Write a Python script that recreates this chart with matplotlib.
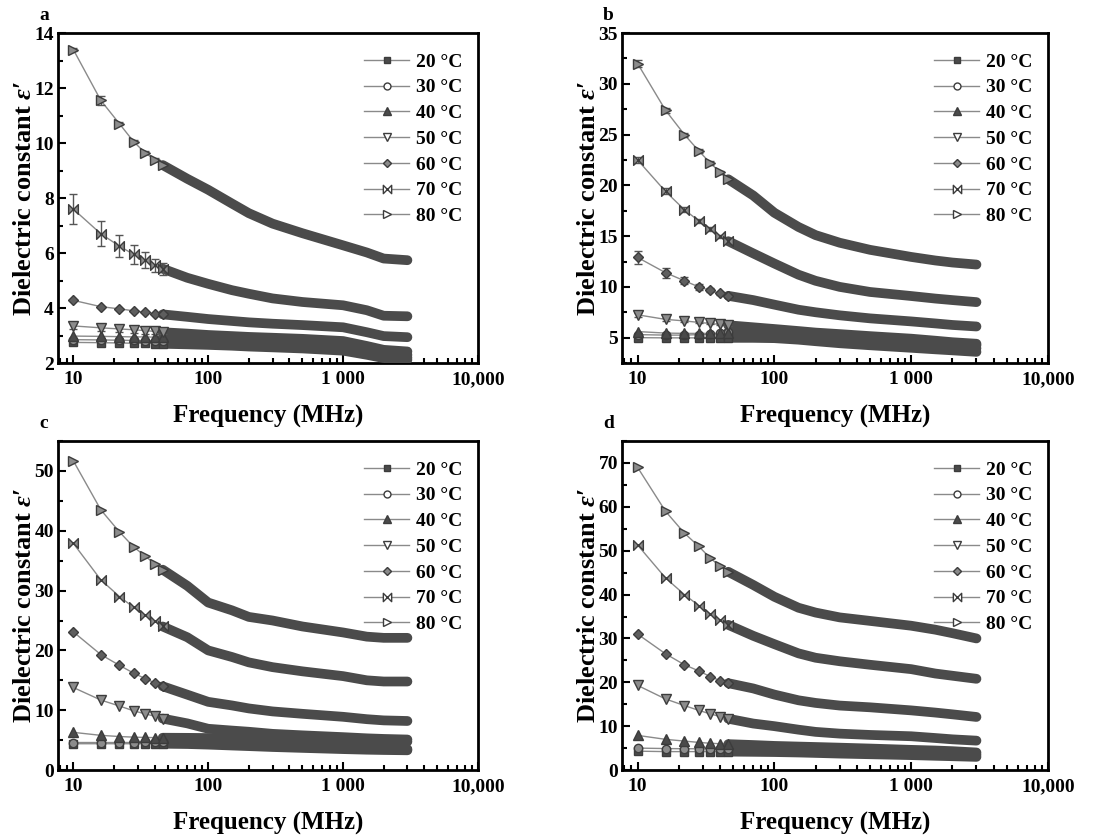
import matplotlib
matplotlib.use("agg")
import matplotlib.pyplot as plt
from matplotlib.path import Path
from matplotlib.ticker import FixedLocator, FixedFormatter, LogLocator, NullFormatter, MultipleLocator

plt.rcParams['font.family'] = ['Liberation Serif', 'DejaVu Serif']
plt.rcParams['font.weight'] = 'bold'
plt.rcParams['mathtext.fontset'] = 'custom'
plt.rcParams['mathtext.rm'] = 'Liberation Serif:bold'
plt.rcParams['mathtext.it'] = 'Liberation Serif:bold:italic'

# frequency sweep (MHz); the first SWEEP_MARKERS points are drawn as separate markers,
# the rest merge into a dense band
FREQ = [10, 16, 22, 28, 34, 40, 46, 70, 100, 150, 200, 300, 500, 1000, 1500, 2000, 3000]
SWEEP_MARKERS = 7

TEMPS = ['20 °C', '30 °C', '40 °C', '50 °C', '60 °C', '70 °C', '80 °C']
PANELS = ['a', 'b', 'c', 'd']
XTICKS = [10, 100, 1000, 10000]
XTICK_LABELS = ['10', '100', '1 000', '10,000']

# dielectric constant, one row per temperature (20 ... 80 °C)
EPS_A = [
    [2.75, 2.74, 2.73, 2.72, 2.72, 2.71, 2.70, 2.68, 2.66, 2.63, 2.60, 2.57, 2.53, 2.45, 2.30, 2.18, 2.12],
    [2.85, 2.84, 2.83, 2.82, 2.81, 2.80, 2.79, 2.77, 2.74, 2.70, 2.67, 2.63, 2.60, 2.52, 2.38, 2.25, 2.20],
    [2.98, 2.97, 2.96, 2.95, 2.95, 2.94, 2.93, 2.90, 2.86, 2.82, 2.78, 2.75, 2.70, 2.62, 2.48, 2.35, 2.30],
    [3.35, 3.28, 3.24, 3.21, 3.18, 3.15, 3.12, 3.07, 3.02, 2.98, 2.95, 2.92, 2.88, 2.80, 2.62, 2.48, 2.42],
    [4.28, 4.05, 3.97, 3.90, 3.85, 3.80, 3.77, 3.68, 3.60, 3.53, 3.48, 3.43, 3.38, 3.30, 3.12, 2.98, 2.94],
    [7.60, 6.70, 6.25, 5.95, 5.75, 5.55, 5.43, 5.10, 4.88, 4.65, 4.52, 4.35, 4.22, 4.10, 3.92, 3.72, 3.70],
    [13.4, 11.55, 10.7, 10.05, 9.65, 9.40, 9.20, 8.70, 8.30, 7.80, 7.45, 7.07, 6.72, 6.28, 6.02, 5.80, 5.74],
]
EPS_B = [
    [5.00, 4.98, 4.98, 4.98, 4.98, 4.98, 4.98, 4.98, 4.95, 4.80, 4.65, 4.45, 4.25, 4.00, 3.85, 3.75, 3.60],
    [5.30, 5.25, 5.25, 5.30, 5.35, 5.45, 5.55, 5.70, 5.60, 5.35, 5.15, 4.95, 4.70, 4.45, 4.25, 4.10, 3.95],
    [5.60, 5.45, 5.42, 5.42, 5.42, 5.42, 5.42, 5.45, 5.40, 5.25, 5.10, 4.95, 4.80, 4.60, 4.45, 4.35, 4.25],
    [7.25, 6.80, 6.65, 6.50, 6.40, 6.30, 6.22, 6.02, 5.85, 5.65, 5.50, 5.35, 5.15, 4.90, 4.70, 4.55, 4.40],
    [12.9, 11.4, 10.6, 10.0, 9.65, 9.35, 9.12, 8.70, 8.25, 7.75, 7.50, 7.20, 6.90, 6.60, 6.40, 6.25, 6.10],
    [22.5, 19.4, 17.6, 16.5, 15.7, 15.0, 14.5, 13.3, 12.3, 11.2, 10.6, 10.0, 9.50, 9.10, 8.85, 8.70, 8.50],
    [32.0, 27.4, 25.0, 23.4, 22.2, 21.3, 20.6, 19.0, 17.3, 15.9, 15.1, 14.35, 13.65, 12.95, 12.6, 12.4, 12.2],
]
EPS_C = [
    [4.40, 4.40, 4.40, 4.40, 4.40, 4.40, 4.40, 4.35, 4.25, 4.10, 4.00, 3.85, 3.70, 3.50, 3.40, 3.35, 3.30],
    [4.60, 4.60, 4.60, 4.60, 4.62, 4.65, 4.68, 4.70, 4.60, 4.45, 4.35, 4.20, 4.05, 3.85, 3.70, 3.60, 3.50],
    [6.30, 5.80, 5.60, 5.50, 5.45, 5.42, 5.40, 5.38, 5.35, 5.30, 5.25, 5.15, 5.05, 4.95, 4.85, 4.80, 4.75],
    [13.8, 11.7, 10.7, 9.90, 9.40, 9.00, 8.60, 7.80, 6.90, 6.60, 6.40, 6.05, 5.80, 5.50, 5.30, 5.20, 5.10],
    [23.1, 19.3, 17.5, 16.2, 15.3, 14.6, 14.0, 12.6, 11.4, 10.8, 10.3, 9.80, 9.40, 8.90, 8.50, 8.30, 8.20],
    [37.9, 31.8, 29.0, 27.2, 25.9, 24.9, 24.0, 22.2, 20.0, 18.9, 18.0, 17.2, 16.5, 15.7, 15.0, 14.8, 14.8],
    [51.7, 43.5, 39.8, 37.3, 35.8, 34.5, 33.5, 30.8, 28.0, 26.7, 25.6, 25.0, 24.0, 23.0, 22.3, 22.1, 22.1],
]
EPS_D = [
    [4.30, 4.20, 4.20, 4.20, 4.20, 4.20, 4.20, 4.15, 4.10, 4.00, 3.90, 3.75, 3.60, 3.40, 3.25, 3.15, 3.00],
    [5.00, 4.90, 4.85, 4.85, 4.85, 4.85, 4.85, 4.80, 4.70, 4.55, 4.45, 4.30, 4.15, 3.95, 3.80, 3.65, 3.50],
    [7.90, 7.00, 6.60, 6.30, 6.10, 6.00, 5.90, 5.70, 5.50, 5.35, 5.25, 5.10, 4.90, 4.60, 4.45, 4.30, 4.00],
    [19.3, 16.2, 14.7, 13.6, 12.8, 12.2, 11.7, 10.6, 10.0, 9.20, 8.70, 8.30, 8.00, 7.70, 7.30, 7.00, 6.70],
    [31.0, 26.5, 24.0, 22.6, 21.3, 20.4, 19.8, 18.6, 17.2, 15.9, 15.3, 14.7, 14.3, 13.6, 13.1, 12.7, 12.1],
    [51.3, 43.8, 40.0, 37.5, 35.6, 34.2, 33.1, 30.6, 28.7, 26.6, 25.6, 24.8, 24.0, 23.0, 22.0, 21.5, 20.8],
    [69.0, 59.0, 54.0, 51.0, 48.3, 46.5, 45.2, 42.2, 39.5, 37.0, 35.9, 34.8, 34.0, 32.9, 32.0, 31.2, 30.0],
]

# standard deviation at the first sweep points (index into TEMPS -> values)
ERR_A = {0: [0.10, 0.10, 0.10, 0.10, 0.10, 0.08, 0.06],
         3: [0.12, 0.12, 0.12, 0.12, 0.12, 0.10, 0.08],
         5: [0.55, 0.45, 0.40, 0.35, 0.30, 0.25, 0.22],
         6: [0.06, 0.15, 0.06, 0.05, 0.05, 0.05, 0.05]}
ERR_B = {3: [0.20, 0.15, 0.10, 0.10, 0.10, 0.10, 0.10],
         4: [0.60, 0.50, 0.35, 0.30, 0.20, 0.15, 0.10],
         5: [0.30, 0.30, 0.25, 0.20, 0.20, 0.15, 0.10],
         6: [0.30, 0.25, 0.20, 0.20, 0.15, 0.15, 0.10]}
ERR_C = {}
ERR_D = {}

YLIMS = [(2, 14), (2.5, 35), (0, 55), (0, 75)]
YSTEPS = [(2, 1), (5, 2.5), (10, 5), (10, 5)]

AXES_RECTS = [
    [0.0522, 0.5673, 0.378, 0.3933],
    [0.5599, 0.5673, 0.3834, 0.3933],
    [0.0522, 0.0822, 0.378, 0.3921],
    [0.5599, 0.0822, 0.3834, 0.3921],
]

bowtie = Path([(-1, 1), (-1, -1), (1, 1), (1, -1), (-1, 1)],
              [Path.MOVETO, Path.LINETO, Path.LINETO, Path.LINETO, Path.CLOSEPOLY])
MARKERS = ['s', 'o', '^', 'v', 'D', bowtie, '>']
LEGEND_FACES = ['#4a4a4a', 'white', '#4a4a4a', 'white', '#8a8a8a', 'white', 'white']
PLOT_FACES = ['#4a4a4a', '#8c8c8c', '#4a4a4a', '#8c8c8c', '#5e5e5e', '#8c8c8c', '#8c8c8c']
SIZES = [6, 6, 6.5, 6.5, 5.5, 7, 6.5]

LINE_C = '#8a8a8a'
EDGE_C = '#3c3c3c'
BAND_C = '#4b4b4b'


def draw_panel(ax, eps, errs, ylim, ysteps, letter):
    for i, (label, values) in enumerate(zip(TEMPS, eps)):
        ax.plot(FREQ, values, color=LINE_C, lw=1.0, zorder=2)
        ax.plot(FREQ[SWEEP_MARKERS - 1:], values[SWEEP_MARKERS - 1:], color=BAND_C,
                lw=7.0, solid_capstyle='round', zorder=3)
        if i in errs:
            ax.errorbar(FREQ[:SWEEP_MARKERS], values[:SWEEP_MARKERS], yerr=errs[i],
                        fmt='none', ecolor='#555555', elinewidth=1.0, capsize=3, capthick=1.0,
                        zorder=3)
        ax.plot(FREQ[:SWEEP_MARKERS], values[:SWEEP_MARKERS], ls='none', marker=MARKERS[i],
                ms=SIZES[i], mfc=PLOT_FACES[i], mec=EDGE_C, mew=1.0, zorder=4)
        # legend proxy
        ax.plot([], [], color=LINE_C, lw=1.0, marker=MARKERS[i], ms=SIZES[i] - 1,
                mfc=LEGEND_FACES[i], mec=EDGE_C, mew=1.0, label=label)

    ax.set_xscale('log')
    ax.set_xlim(7.7, 10000)
    ax.set_ylim(*ylim)
    ax.xaxis.set_major_locator(FixedLocator(XTICKS))
    ax.xaxis.set_major_formatter(FixedFormatter(XTICK_LABELS))
    ax.xaxis.set_minor_locator(LogLocator(base=10, subs=range(2, 10), numticks=20))
    ax.xaxis.set_minor_formatter(NullFormatter())
    ax.yaxis.set_major_locator(MultipleLocator(ysteps[0]))
    ax.yaxis.set_minor_locator(MultipleLocator(ysteps[1]))
    if ylim[0] == 2.5:
        ax.set_yticks([5, 10, 15, 20, 25, 30, 35])

    ax.tick_params(which='both', direction='in', top=False, right=False, width=1.5,
                   labelsize=14)
    ax.tick_params(axis='x', pad=6)
    ax.tick_params(axis='y', pad=3)
    ax.tick_params(which='major', length=6)
    ax.tick_params(which='minor', length=3.5)
    for side in ax.spines.values():
        side.set_linewidth(2.0)

    ax.set_xlabel('Frequency (MHz)', fontsize=18, fontweight='bold', labelpad=12)
    ax.set_ylabel("Dielectric constant $\\varepsilon$\u2032", fontsize=19, fontweight='bold')
    ax.yaxis.set_label_coords(-0.052, 0.5)
    ax.legend(loc='upper right', bbox_to_anchor=(0.99, 0.975), frameon=False, fontsize=14,
              handlelength=2.3, handletextpad=0.35, labelspacing=0.42, borderaxespad=0.2)
    ax.text(-0.045, 1.04, letter, transform=ax.transAxes, fontsize=14, fontweight='bold',
            va='baseline', ha='left')


fig = plt.figure(figsize=(11.11, 8.39), dpi=100)
for rect, eps, errs, ylim, ysteps, letter in zip(
        AXES_RECTS, [EPS_A, EPS_B, EPS_C, EPS_D], [ERR_A, ERR_B, ERR_C, ERR_D],
        YLIMS, YSTEPS, PANELS):
    ax = fig.add_axes(rect)
    draw_panel(ax, eps, errs, ylim, ysteps, letter)

fig.savefig('out.png', dpi=100)
plt.close(fig)
